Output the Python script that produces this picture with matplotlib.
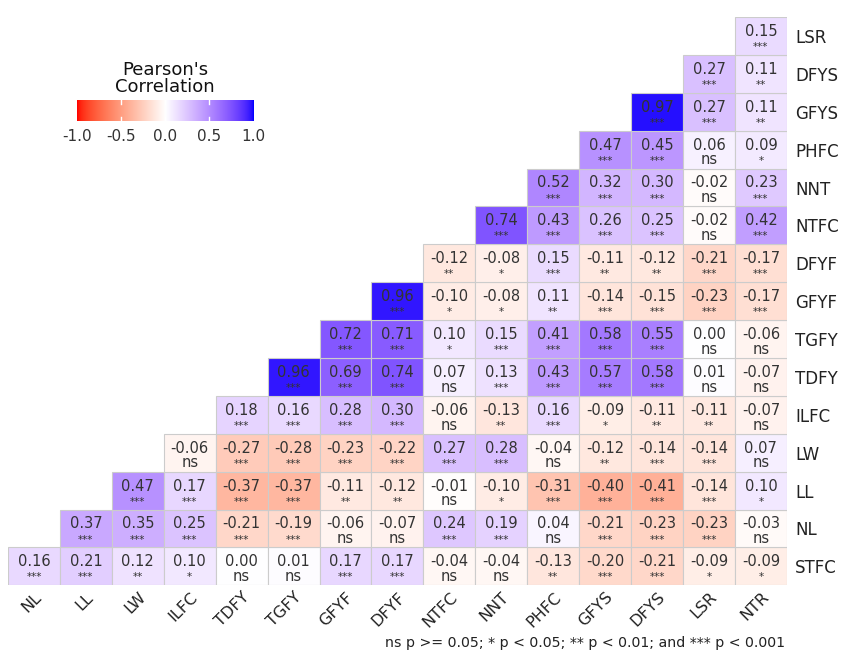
import numpy as np
import matplotlib
matplotlib.use("Agg")
import matplotlib.pyplot as plt
from matplotlib.colors import ListedColormap, Normalize
from matplotlib.patches import Rectangle
from matplotlib.transforms import ScaledTranslation

plt.rcParams['font.family'] = ['DejaVu Sans']

# rows listed bottom -> top, row k has cells for columns k..14
rows = ["STFC", "NL", "LL", "LW", "ILFC", "TDFY", "TGFY", "GFYF",
        "DFYF", "NTFC", "NNT", "PHFC", "GFYS", "DFYS", "LSR"]
cols = ["NL", "LL", "LW", "ILFC", "TDFY", "TGFY", "GFYF", "DFYF",
        "NTFC", "NNT", "PHFC", "GFYS", "DFYS", "LSR", "NTR"]

r_stfc = [0.16, 0.21, 0.12, 0.10, 0.00, 0.01, 0.17, 0.17, -0.04, -0.04, -0.13, -0.20, -0.21, -0.09, -0.09]
r_nl = [0.37, 0.35, 0.25, -0.21, -0.19, -0.06, -0.07, 0.24, 0.19, 0.04, -0.21, -0.23, -0.23, -0.03]
r_ll = [0.47, 0.17, -0.37, -0.37, -0.11, -0.12, -0.01, -0.10, -0.31, -0.40, -0.41, -0.14, 0.10]
r_lw = [-0.06, -0.27, -0.28, -0.23, -0.22, 0.27, 0.28, -0.04, -0.12, -0.14, -0.14, 0.07]
r_ilfc = [0.18, 0.16, 0.28, 0.30, -0.06, -0.13, 0.16, -0.09, -0.11, -0.11, -0.07]
r_tdfy = [0.96, 0.69, 0.74, 0.07, 0.13, 0.43, 0.57, 0.58, 0.01, -0.07]
r_tgfy = [0.72, 0.71, 0.10, 0.15, 0.41, 0.58, 0.55, 0.00, -0.06]
r_gfyf = [0.96, -0.10, -0.08, 0.11, -0.14, -0.15, -0.23, -0.17]
r_dfyf = [-0.12, -0.08, 0.15, -0.11, -0.12, -0.21, -0.17]
r_ntfc = [0.74, 0.43, 0.26, 0.25, -0.02, 0.42]
r_nnt = [0.52, 0.32, 0.30, -0.02, 0.23]
r_phfc = [0.47, 0.45, 0.06, 0.09]
r_gfys = [0.97, 0.27, 0.11]
r_dfys = [0.27, 0.11]
r_lsr = [0.15]

s_stfc = ["***", "***", "**", "*", "ns", "ns", "***", "***", "ns", "ns", "**", "***", "***", "*", "*"]
s_nl = ["***", "***", "***", "***", "***", "ns", "ns", "***", "***", "ns", "***", "***", "***", "ns"]
s_ll = ["***", "***", "***", "***", "**", "**", "ns", "*", "***", "***", "***", "***", "*"]
s_lw = ["ns", "***", "***", "***", "***", "***", "***", "ns", "**", "***", "***", "ns"]
s_ilfc = ["***", "***", "***", "***", "ns", "**", "***", "*", "**", "**", "ns"]
s_tdfy = ["***", "***", "***", "ns", "***", "***", "***", "***", "ns", "ns"]
s_tgfy = ["***", "***", "*", "***", "***", "***", "***", "ns", "ns"]
s_gfyf = ["***", "*", "*", "**", "***", "***", "***", "***"]
s_dfyf = ["**", "*", "***", "**", "**", "***", "***"]
s_ntfc = ["***", "***", "***", "***", "ns", "***"]
s_nnt = ["***", "***", "***", "ns", "***"]
s_phfc = ["***", "***", "ns", "*"]
s_gfys = ["***", "***", "**"]
s_dfys = ["***", "**"]
s_lsr = ["***"]

values = [r_stfc, r_nl, r_ll, r_lw, r_ilfc, r_tdfy, r_tgfy, r_gfyf,
          r_dfyf, r_ntfc, r_nnt, r_phfc, r_gfys, r_dfys, r_lsr]
stars = [s_stfc, s_nl, s_ll, s_lw, s_ilfc, s_tdfy, s_tgfy, s_gfyf,
         s_dfyf, s_ntfc, s_nnt, s_phfc, s_gfys, s_dfys, s_lsr]

caption = "ns p >= 0.05; * p < 0.05; ** p < 0.01; and *** p < 0.001"


# red - white - blue gradient interpolated in CIELAB (like ggplot's gradient2)
def to_lab(rgb):
    c = np.asarray(rgb, float)
    c = np.where(c > 0.04045, ((c + 0.055) / 1.055) ** 2.4, c / 12.92)
    M = np.array([[0.4124, 0.3576, 0.1805],
                  [0.2126, 0.7152, 0.0722],
                  [0.0193, 0.1192, 0.9505]])
    xyz = M @ c / np.array([0.95047, 1.0, 1.08883])
    f = np.where(xyz > 0.008856, np.cbrt(xyz), 7.787 * xyz + 16 / 116)
    return np.array([116 * f[1] - 16, 500 * (f[0] - f[1]), 200 * (f[1] - f[2])])


def from_lab(lab):
    L, a, b = lab
    fy = (L + 16) / 116
    fx = fy + a / 500
    fz = fy - b / 200
    f = np.array([fx, fy, fz])
    xyz = np.where(f ** 3 > 0.008856, f ** 3, (f - 16 / 116) / 7.787)
    xyz = xyz * np.array([0.95047, 1.0, 1.08883])
    Minv = np.array([[3.2406, -1.5372, -0.4986],
                     [-0.9689, 1.8758, 0.0415],
                     [0.0557, -0.2040, 1.0570]])
    c = Minv @ xyz
    c = np.where(c > 0.0031308, 1.055 * np.clip(c, 0, None) ** (1 / 2.4) - 0.055, 12.92 * c)
    return np.clip(c, 0, 1)


lab_red, lab_white, lab_blue = to_lab([1, 0, 0]), to_lab([1, 1, 1]), to_lab([0, 0, 1])
ramp = []
for t in np.linspace(-1, 1, 256):
    if t < 0:
        lab = lab_white + (lab_red - lab_white) * (-t)
    else:
        lab = lab_white + (lab_blue - lab_white) * t
    ramp.append(from_lab(lab))
cmap = ListedColormap(ramp)
norm = Normalize(-1, 1)

fig = plt.figure(figsize=(8.54, 6.54), dpi=100)
ax = fig.add_axes([0.0094, 0.105, 0.912, 0.869])

n = len(cols)
for k, (vals, sig) in enumerate(zip(values, stars)):
    for j, (v, s) in enumerate(zip(vals, sig)):
        x = k + j
        ax.add_patch(Rectangle((x, k), 1, 1, facecolor=cmap(norm(v)),
                               edgecolor="#cccccc", linewidth=0.8))
        ax.text(x + 0.5, k + 0.62, f"{v:.2f}", ha="center", va="center",
                fontsize=10.5, color="#333333")
        if s == "ns":
            ax.text(x + 0.5, k + 0.23, s, ha="center", va="center",
                    fontsize=10.5, color="#333333")
        else:
            ax.text(x + 0.5, k + 0.13, s, ha="center", va="baseline",
                    fontsize=7.5, color="#333333")

ax.set_xlim(0, n)
ax.set_ylim(0, n)
ax.set_xticks(np.arange(n) + 0.5)
ax.set_xticklabels(cols, rotation=45, ha="right", va="top",
                   rotation_mode="anchor", fontsize=11.5, color="#222222")
shift = ScaledTranslation(0.09, 0.0, fig.dpi_scale_trans)
for lbl in ax.get_xticklabels():
    lbl.set_transform(lbl.get_transform() + shift)
ax.yaxis.tick_right()
ax.set_yticks(np.arange(n) + 0.5)
ax.set_yticklabels(rows, fontsize=12, color="#222222")
ax.tick_params(axis="y", length=0, pad=6)
ax.tick_params(axis="x", length=0, pad=3)
for sp in ax.spines.values():
    sp.set_visible(False)

# legend colour bar
cax = fig.add_axes([0.0878, 0.815, 0.2108, 0.032])
grad = np.linspace(-1, 1, 256).reshape(1, -1)
cax.imshow(grad, aspect="auto", cmap=cmap, norm=norm, extent=[-1, 1, 0, 1])
for tk in [-0.5, 0.0, 0.5]:
    cax.plot([tk, tk], [0, 0.2], color="white", lw=1)
    cax.plot([tk, tk], [0.8, 1], color="white", lw=1)
cax.set_xlim(-1.02, 1.02)
cax.set_ylim(0, 1)
cax.set_yticks([])
cax.set_xticks([-1, -0.5, 0, 0.5, 1])
cax.set_xticklabels(["-1.0", "-0.5", "0.0", "0.5", "1.0"], fontsize=11, color="#333333")
cax.tick_params(length=0, pad=6)
for sp in cax.spines.values():
    sp.set_visible(False)
cax.set_title("Pearson's\nCorrelation", fontsize=13, color="#111111",
              linespacing=0.9, pad=6)

fig.text(0.919, 0.006, caption, ha="right", va="bottom", fontsize=10.2, color="#222222")

fig.savefig("out.png", dpi=100)
